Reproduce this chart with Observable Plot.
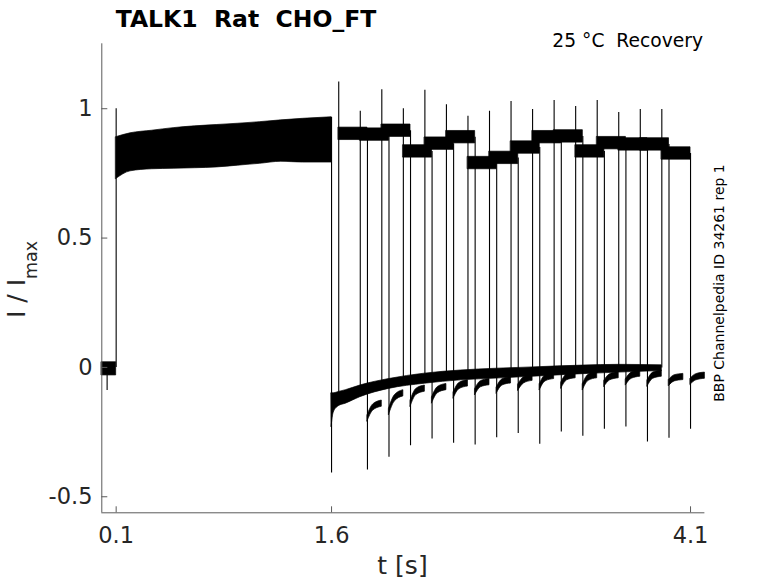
<!DOCTYPE html>
<html><head><meta charset="utf-8">
<script src="https://cdn.jsdelivr.net/npm/d3@7"></script>
<script src="https://cdn.jsdelivr.net/npm/@observablehq/plot@0.6"></script>
<style>html,body{margin:0;padding:0;background:#fff} svg{display:block}</style>
</head><body><div id="chart"></div>
<script>
// ---- axes ----
const xDomain = [0, 4.2];
const yDomain = [-0.562, 1.251];
const xTicks = [0.1, 1.6, 4.1];
const yTicks = [-0.5, 0, 0.5, 1];

// ---- holding baseline before the conditioning pulse ----
const baseT = [0, 0.1];
const baseLo = [-0.031, -0.031];
const baseHi = [0.02, 0.02];
const baseDipT = 0.037;
const baseDipMin = -0.089;

// ---- conditioning pulse (0.1 s - 1.6 s), envelope of all sweeps ----
const p1T  = [0.1,   0.2,   0.35,  0.5,   0.65,  0.8,   0.95,  1.1,   1.25,  1.4,   1.6];
const p1Hi = [0.890, 0.905, 0.915, 0.925, 0.932, 0.937, 0.942, 0.948, 0.955, 0.961, 0.967];
const p1Lo = [0.728, 0.758, 0.766, 0.768, 0.770, 0.773, 0.780, 0.787, 0.795, 0.792, 0.792];
const p1OnsetPeak = 1.0;
const p1OffsetMin = -0.408;

// ---- recovery tail between pulses, envelope of all sweeps ----
const tailT  = [1.6,   1.615,  1.65,   1.7,    1.8,    2.0,    2.25,   2.5,    2.75,   3.0,    3.35,   3.6,    3.9];
const tailHi = [-0.10, -0.10,  -0.095, -0.088, -0.07,  -0.045, -0.024, -0.012, -0.005, 0.0,    0.007,  0.01,   0.008];
const tailLo = [-0.23, -0.175, -0.15,  -0.14,  -0.115, -0.083, -0.063, -0.05,  -0.043, -0.036, -0.026, -0.02,  -0.014];

// ---- test pulses, one per sweep ----
const testStart = [1.65, 1.80, 1.95, 2.10, 2.25, 2.40, 2.55, 2.70, 2.85, 3.00, 3.15, 3.30, 3.45, 3.60, 3.75, 3.90];
const testEnd   = [1.85, 2.00, 2.15, 2.30, 2.45, 2.60, 2.75, 2.90, 3.05, 3.20, 3.35, 3.50, 3.65, 3.80, 3.95, 4.10];
const testBase  = [-0.115, -0.09, -0.07, -0.057, -0.045, -0.036, -0.03, -0.025, -0.02, -0.017, -0.014, -0.011, -0.008, -0.006, -0.004, -0.002];
const testPeak  = [1.103, 0.99, 1.073, 1.0, 1.071, 1.015, 0.971, 0.99, 1.028, 0.997, 1.032, 1.009, 1.032, 0.985, 0.997, 0.997];
const testLevel = [0.903, 0.90, 0.915, 0.835, 0.865, 0.89, 0.79, 0.81, 0.85, 0.89, 0.893, 0.835, 0.867, 0.862, 0.862, 0.827];
const testOffMin = [-0.397, -0.347, -0.303, -0.277, -0.293, -0.30, -0.272, -0.255, -0.297, -0.25, -0.266, -0.239, -0.23, -0.288, -0.274, -0.239];
const plateauNoise = 0.024;

// ---- tail after each test pulse ----
const postMidT = [1.89, 2.04, 2.19, 2.34, 2.49, 2.64, 2.79, 2.94, 3.09, 3.24, 3.39, 3.54, 3.69, 3.84, 3.99, 4.14];
const postEndT = [1.95, 2.10, 2.25, 2.40, 2.55, 2.70, 2.85, 3.00, 3.15, 3.30, 3.45, 3.60, 3.75, 3.90, 4.05, 4.20];
const postStart = [-0.197, -0.172, -0.14, -0.127, -0.108, -0.095, -0.089, -0.078, -0.076, -0.07, -0.076, -0.063, -0.057, -0.062, -0.06, -0.055];
const postMid   = [-0.155, -0.12, -0.095, -0.088, -0.072, -0.065, -0.058, -0.05, -0.042, -0.038, -0.04, -0.038, -0.032, -0.032, -0.042, -0.038];
const postEnd   = [-0.14, -0.10, -0.082, -0.076, -0.062, -0.057, -0.05, -0.04, -0.033, -0.03, -0.03, -0.03, -0.024, -0.024, -0.037, -0.032];
const postNoise = 0.012;

// ---- build tables ----
const baseRows = baseT.map((t, i) => ({t, lo: baseLo[i], hi: baseHi[i]}));
const p1Rows = p1T.map((t, i) => ({t, lo: p1Lo[i], hi: p1Hi[i]}));
const tailRows = tailT.map((t, i) => ({t, lo: tailLo[i], hi: tailHi[i]}));
const plateauRows = testStart.flatMap((s, k) => [
  {k, t: s, lo: testLevel[k] - plateauNoise, hi: testLevel[k] + plateauNoise},
  {k, t: testEnd[k], lo: testLevel[k] - plateauNoise, hi: testLevel[k] + plateauNoise}
]);
const postRows = testEnd.flatMap((e, k) => [
  {k, t: e, lo: postStart[k] - postNoise, hi: postStart[k] + postNoise},
  {k, t: postMidT[k], lo: postMid[k] - postNoise, hi: postMid[k] + postNoise},
  {k, t: postEndT[k], lo: postEnd[k] - postNoise, hi: postEnd[k] + postNoise}
]);
const spikeRows = [
  {t: p1T[0], y1: 0, y2: p1OnsetPeak},
  {t: p1T[p1T.length - 1], y1: p1Hi[p1Hi.length - 1], y2: p1OffsetMin},
  {t: baseDipT, y1: baseLo[0], y2: baseDipMin},
  ...testStart.map((s, k) => ({t: s, y1: testBase[k], y2: testPeak[k]})),
  ...testEnd.map((e, k) => ({t: e, y1: testLevel[k], y2: testOffMin[k]}))
];

const axisColor = "#5a5a5a";
const band = {x: "t", y1: "lo", y2: "hi", fill: "black", stroke: "black", strokeWidth: 0.7};

const chart = Plot.plot({
  width: 778,
  height: 583,
  marginLeft: 101.3,
  marginRight: 73.6,
  marginTop: 43.3,
  marginBottom: 70.7,
  style: {fontFamily: "DejaVu Sans", background: "white", color: "#262626"},
  x: {domain: xDomain},
  y: {domain: yDomain},
  marks: [
    Plot.areaY(baseRows, band),
    Plot.areaY(p1Rows, {...band, curve: "monotone-x"}),
    Plot.areaY(tailRows, {...band, curve: "monotone-x"}),
    Plot.areaY(plateauRows, {...band, z: "k"}),
    Plot.areaY(postRows, {...band, z: "k", curve: "monotone-x"}),
    Plot.ruleX(spikeRows, {x: "t", y1: "y1", y2: "y2", stroke: "black", strokeWidth: 1.1}),
    Plot.ruleX([xDomain[0]], {stroke: axisColor, strokeWidth: 1}),
    Plot.ruleY([yDomain[0]], {stroke: axisColor, strokeWidth: 1}),
    Plot.axisX(xTicks, {tickSize: -6, tickPadding: 20, fontSize: 22.5, stroke: axisColor, fill: "#262626", tickFormat: d => String(d), label: null}),
    Plot.axisY(yTicks, {tickSize: -6, tickPadding: 15.3, fontSize: 22.5, stroke: axisColor, fill: "#262626", tickFormat: d => String(d), label: null})
  ]
});

document.getElementById("chart").appendChild(chart);
const svg = d3.select(chart);

svg.append("text")
  .attr("x", 246).attr("y", 27)
  .attr("text-anchor", "middle")
  .attr("font-size", 23.5).attr("font-weight", "bold")
  .attr("fill", "black").style("white-space", "pre")
  .text("TALK1  Rat  CHO_FT");

svg.append("text")
  .attr("x", 703).attr("y", 47.3)
  .attr("text-anchor", "end")
  .attr("font-size", 18.7)
  .attr("fill", "black").style("white-space", "pre")
  .text("25 °C  Recovery");

svg.append("text")
  .attr("transform", "translate(724,283) rotate(-90)")
  .attr("text-anchor", "middle")
  .attr("font-size", 14)
  .attr("fill", "black")
  .text("BBP Channelpedia ID 34261 rep 1");

const yl = svg.append("text")
  .attr("transform", "translate(25,318) rotate(-90)")
  .attr("text-anchor", "start")
  .attr("font-size", 25)
  .attr("fill", "#262626").style("white-space", "pre");
yl.append("tspan").text("I / I");
yl.append("tspan").attr("font-size", 17.5).attr("dy", 12).text("max");

svg.append("text")
  .attr("x", 402.5).attr("y", 574)
  .attr("text-anchor", "middle")
  .attr("font-size", 25)
  .attr("fill", "#262626").style("white-space", "pre")
  .text("t [s]");
</script></body></html>
